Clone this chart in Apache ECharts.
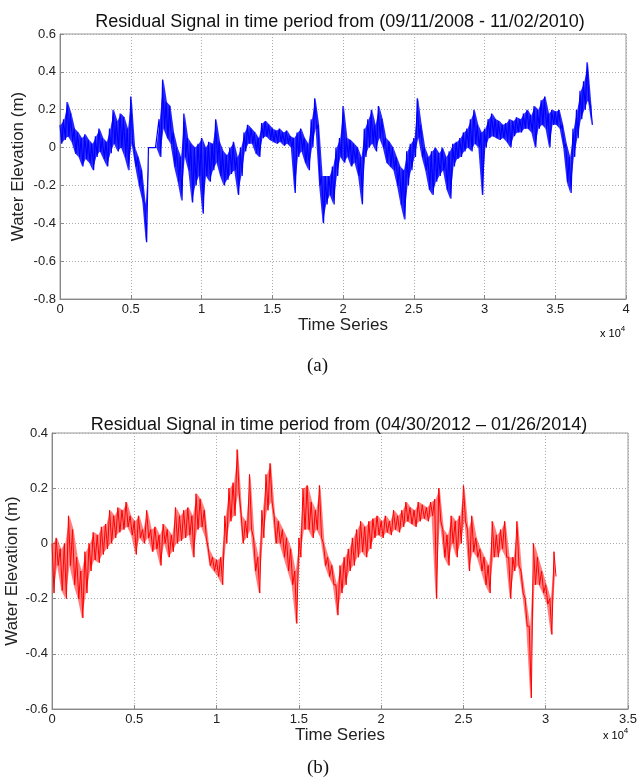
<!DOCTYPE html>
<html>
<head>
<meta charset="utf-8">
<script src="https://cdn.jsdelivr.net/npm/echarts@6/dist/echarts.min.js"></script>
<style>
  html, body { margin: 0; padding: 0; background: #fff; }
  #chart { width: 643px; height: 784px; }
</style>
</head>
<body>
<div id="chart"></div>
<script>
// sample spacing (time steps) between consecutive readings
var STEP = 125

// (a) 09/11/2008 - 11/02/2010, readings taken as (high, low) pairs every 250 steps
var elevA = [
    0.12, 0.02, 0.15, 0.04, 0.24, 0.06, 0.18, 0.03,
    0.10, -0.03, 0.08, -0.05, 0.05, -0.10, 0.07, -0.06,
    0.04, -0.08, 0.02, -0.12, 0.06, -0.05, 0.10, -0.02,
    0.05, -0.06, 0.03, -0.10, 0.10, -0.03, 0.20, 0.02,
    0.14, -0.02, 0.18, 0.00, 0.16, -0.05, 0.10, -0.12,
    0.27, 0.02, 0.00, -0.10, -0.05, -0.20, -0.12, -0.28,
    -0.30, -0.50, 0.00, 0.00, 0.00, 0.00, 0.00, 0.00,
    0.15, -0.05, 0.36, 0.10, 0.24, 0.05, 0.22, 0.02,
    0.08, -0.10, 0.00, -0.18, -0.05, -0.28, 0.18, -0.05,
    0.05, -0.12, 0.02, -0.29, 0.00, -0.20, 0.02, -0.15,
    0.05, -0.35, 0.00, -0.15, 0.03, -0.18, 0.02, -0.12,
    0.15, -0.08, 0.03, -0.15, -0.02, -0.20, -0.04, -0.17,
    0.00, -0.14, 0.03, -0.12, -0.05, -0.25, 0.00, -0.15,
    0.08, -0.02, 0.12, 0.02, 0.10, 0.02, 0.08, -0.03,
    0.05, -0.05, 0.13, 0.05, 0.14, 0.06, 0.12, 0.04,
    0.10, 0.03, 0.09, 0.02, 0.10, 0.03, 0.08, 0.01,
    0.09, 0.02, 0.06, 0.00, 0.05, -0.24, 0.08, -0.05,
    0.10, -0.02, 0.05, -0.08, 0.02, -0.12, 0.15, 0.00,
    0.26, 0.10, 0.12, -0.20, -0.15, -0.40, -0.15, -0.30,
    -0.15, -0.25, -0.10, -0.30, 0.00, -0.15, 0.05, -0.05,
    0.22, -0.08, 0.05, -0.05, 0.04, -0.10, 0.02, -0.08,
    0.00, -0.15, -0.05, -0.30, 0.10, -0.05, 0.15, 0.00,
    0.20, 0.02, 0.12, -0.02, 0.22, 0.05, 0.15, 0.00,
    0.05, -0.08, 0.03, -0.10, 0.00, -0.12, -0.05, -0.20,
    -0.10, -0.30, -0.12, -0.38, -0.02, -0.20, 0.02, -0.12,
    0.05, -0.05, 0.26, 0.05, 0.12, -0.05, 0.00, -0.12,
    -0.05, -0.22, -0.02, -0.25, 0.00, -0.18, -0.03, -0.15,
    0.00, -0.12, -0.05, -0.22, -0.02, -0.27, 0.02, -0.10,
    0.03, -0.06, 0.05, -0.05, 0.08, -0.02, 0.10, 0.00,
    0.15, -0.02, 0.20, 0.02, 0.12, 0.00, 0.08, -0.25,
    0.10, 0.00, 0.15, 0.05, 0.18, 0.06, 0.15, 0.05,
    0.14, 0.04, 0.12, 0.05, 0.13, 0.03, 0.15, 0.00,
    0.14, 0.06, 0.16, 0.08, 0.15, 0.08, 0.18, 0.10,
    0.20, 0.10, 0.17, 0.08, 0.22, 0.00, 0.20, 0.10,
    0.25, 0.12, 0.27, 0.10, 0.18, 0.00, 0.20, 0.12,
    0.19, 0.12, 0.20, 0.10, 0.12, 0.00, 0.02, -0.18,
    -0.05, -0.24, 0.10, -0.05, 0.20, 0.05, 0.30, 0.15,
    0.35, 0.20, 0.45, 0.25, 0.22, 0.12
]

// (b) 04/30/2012 - 01/26/2014
var elevB = [
    0.00, -0.18, 0.02, -0.08, -0.02, -0.17, 0.00, -0.20,
    0.10, -0.08, 0.05, -0.15, -0.05, -0.20, -0.10, -0.27,
    -0.03, -0.18, 0.00, -0.10, 0.04, -0.06, 0.03, -0.07,
    0.06, -0.04, 0.07, -0.02, 0.12, 0.00, 0.10, 0.02,
    0.13, 0.04, 0.12, 0.05, 0.15, 0.06, 0.10, 0.03,
    0.08, -0.04, 0.10, 0.02, 0.05, 0.00, 0.12, 0.02,
    0.05, -0.03, 0.06, -0.02, 0.03, -0.08, 0.07, 0.00,
    0.05, -0.05, 0.03, -0.03, 0.13, 0.00, 0.10, 0.01,
    0.12, 0.02, 0.13, 0.03, 0.10, -0.05, 0.18, 0.05,
    0.16, 0.06, 0.12, 0.02, -0.02, -0.08, -0.05, -0.10,
    -0.06, -0.12, -0.05, -0.15, 0.10, 0.00, 0.20, 0.08,
    0.22, 0.10, 0.34, 0.18, 0.10, 0.00, 0.08, 0.02,
    0.25, 0.05, 0.02, -0.10, -0.05, -0.18, 0.12, 0.02,
    0.25, 0.12, 0.29, 0.15, 0.10, 0.00, 0.08, 0.00,
    0.05, -0.05, 0.02, -0.10, -0.02, -0.15, -0.10, -0.29,
    0.02, -0.05, 0.20, 0.05, 0.21, 0.05, 0.15, 0.02,
    0.12, 0.05, 0.21, 0.02, 0.00, -0.08, -0.05, -0.12,
    -0.08, -0.15, -0.15, -0.26, -0.08, -0.18, -0.05, -0.15,
    -0.02, -0.10, 0.02, -0.08, 0.05, -0.05, 0.08, -0.03,
    0.06, -0.05, 0.08, -0.02, 0.09, 0.02, 0.10, 0.03,
    0.08, 0.02, 0.10, 0.04, 0.08, 0.03, 0.12, 0.05,
    0.10, 0.04, 0.12, 0.06, 0.15, 0.08, 0.13, 0.07,
    0.12, 0.06, 0.15, 0.08, 0.14, 0.09, 0.13, 0.08,
    0.15, 0.10, 0.16, -0.20, 0.20, 0.08, 0.05, -0.05,
    0.03, -0.08, 0.10, 0.00, 0.08, -0.05, 0.10, 0.00,
    0.21, 0.08, 0.05, -0.10, 0.10, -0.03, 0.02, -0.05,
    -0.02, -0.10, -0.05, -0.15, -0.08, -0.18, 0.08, -0.05,
    0.03, -0.05, 0.05, -0.02, 0.08, -0.05, -0.05, -0.20,
    -0.05, -0.10, 0.08, -0.08, -0.10, -0.18, -0.20, -0.30,
    -0.30, -0.56, 0.00, -0.15, -0.05, -0.15, -0.10, -0.18,
    -0.15, -0.22, -0.20, -0.33, -0.03, -0.12
]

var titleA = 'Residual Signal in time period from (09/11/2008 - 11/02/2010)'
var titleB = 'Residual Signal in time period from (04/30/2012 \u2013 01/26/2014)'

var xTicksA = { min: 0, max: 40000, interval: 5000 }
var xTicksB = { min: 0, max: 35000, interval: 5000 }
var yTicksA = { min: -0.8, max: 0.6, interval: 0.2 }
var yTicksB = { min: -0.6, max: 0.4, interval: 0.2 }

function toPoints(vals) {
    return vals.map(function (v, i) { return [i * STEP, v] })
}

// band pieces between neighbouring (high, low) pairs: [t, hi, lo, tNext, hiNext, loNext]
function bandOf(vals) {
    var out = []
    for (var i = 0; i + 3 < vals.length; i += 2) {
        out.push([
            i * STEP + STEP / 2, Math.max(vals[i], vals[i + 1]), Math.min(vals[i], vals[i + 1]),
            (i + 2) * STEP + STEP / 2, Math.max(vals[i + 2], vals[i + 3]), Math.min(vals[i + 2], vals[i + 3])
        ])
    }
    return out
}

var FONT = '"Liberation Sans", Arial, sans-serif'

function xAxisCfg(idx, ticks) {
    return {
        type: 'value', gridIndex: idx,
        min: ticks.min, max: ticks.max, interval: ticks.interval,
        name: 'Time Series', nameLocation: 'middle', nameGap: 17,
        nameTextStyle: { fontFamily: FONT, fontSize: 17, color: '#222' },
        axisLine: { onZero: false, lineStyle: { color: '#888' } },
        axisTick: { inside: true, length: 4, lineStyle: { color: '#888' } },
        axisLabel: {
            fontFamily: FONT, fontSize: 13, color: '#222', margin: 4,
            formatter: function (v) { return String(v / 10000) }
        },
        splitLine: { show: true, lineStyle: { type: [1, 2], color: '#aaa' } }
    }
}

function yAxisCfg(idx, ticks, gap) {
    return {
        type: 'value', gridIndex: idx,
        min: ticks.min, max: ticks.max, interval: ticks.interval,
        name: 'Water Elevation (m)', nameLocation: 'middle', nameGap: gap,
        nameMoveOverlap: false,
        nameTextStyle: { fontFamily: FONT, fontSize: 17, color: '#222' },
        axisLine: { show: true, lineStyle: { color: '#888' } },
        axisTick: { inside: true, length: 4, lineStyle: { color: '#888' } },
        axisLabel: {
            fontFamily: FONT, fontSize: 13, color: '#222', margin: 4,
            formatter: function (v) { return String(Math.round(v * 10) / 10) }
        },
        splitLine: { show: true, lineStyle: { type: [1, 2], color: '#aaa' } }
    }
}

function bandSeries(idx, vals, color, opacity) {
    return {
        type: 'custom', xAxisIndex: idx, yAxisIndex: idx, silent: true,
        data: bandOf(vals),
        encode: { x: [0, 3], y: [1, 2, 4, 5] },
        renderItem: function (params, api) {
            var p1 = api.coord([api.value(0), api.value(1)])
            var p2 = api.coord([api.value(3), api.value(4)])
            var p3 = api.coord([api.value(3), api.value(5)])
            var p4 = api.coord([api.value(0), api.value(2)])
            return {
                type: 'polygon',
                shape: { points: [p1, p2, p3, p4] },
                style: { fill: color, opacity: opacity, stroke: null }
            }
        }
    }
}

var supText = function (left, top) {
    return { type: 'text', left: left, top: top, style: {
        text: '{a|x 10}{s|4}', rich: {
            a: { fontFamily: FONT, fontSize: 11, color: '#222', verticalAlign: 'bottom' },
            s: { fontFamily: FONT, fontSize: 8, color: '#222', verticalAlign: 'top', padding: [0, 0, 6, 0] }
        } } }
}

var option = {
    animation: false,
    backgroundColor: '#fff',
    title: [
        { text: titleA, left: 335, top: 8, textAlign: 'center',
          textStyle: { fontFamily: FONT, fontSize: 18, fontWeight: 'normal', color: '#111' } },
        { text: titleB, left: 334, top: 411, textAlign: 'center',
          textStyle: { fontFamily: FONT, fontSize: 18, fontWeight: 'normal', color: '#111' } }
    ],
    grid: [
        { left: 60, top: 34, width: 566, height: 265, show: true, borderColor: '#999', borderWidth: 1,
          containLabel: false, outerBoundsMode: 'none' },
        { left: 52, top: 433, width: 576, height: 276, show: true, borderColor: '#999', borderWidth: 1,
          containLabel: false, outerBoundsMode: 'none' }
    ],
    xAxis: [xAxisCfg(0, xTicksA), xAxisCfg(1, xTicksB)],
    yAxis: [yAxisCfg(0, yTicksA, 33), yAxisCfg(1, yTicksB, 31)],
    series: [
        bandSeries(0, elevA, '#0000ff', 0.85),
        bandSeries(1, elevB, '#ff0000', 0.5),
        {
            type: 'line', xAxisIndex: 0, yAxisIndex: 0,
            data: toPoints(elevA), showSymbol: false, sampling: null,
            lineStyle: { color: '#0000ff', width: 1.2 }
        },
        {
            type: 'line', xAxisIndex: 1, yAxisIndex: 1,
            data: toPoints(elevB), showSymbol: false, sampling: null,
            lineStyle: { color: '#ff0000', width: 1 }
        }
    ],
    graphic: [
        supText(600, 325),
        supText(603, 727),
        { type: 'text', left: 307, top: 357, style: {
            text: '(a)', fontFamily: '"Liberation Serif", "Times New Roman", serif', fontSize: 19, fill: '#111' } },
        { type: 'text', left: 307, top: 759, style: {
            text: '(b)', fontFamily: '"Liberation Serif", "Times New Roman", serif', fontSize: 19, fill: '#111' } }
    ]
}

var chart = echarts.init(document.getElementById('chart'))
chart.setOption(option)
</script>
</body>
</html>
